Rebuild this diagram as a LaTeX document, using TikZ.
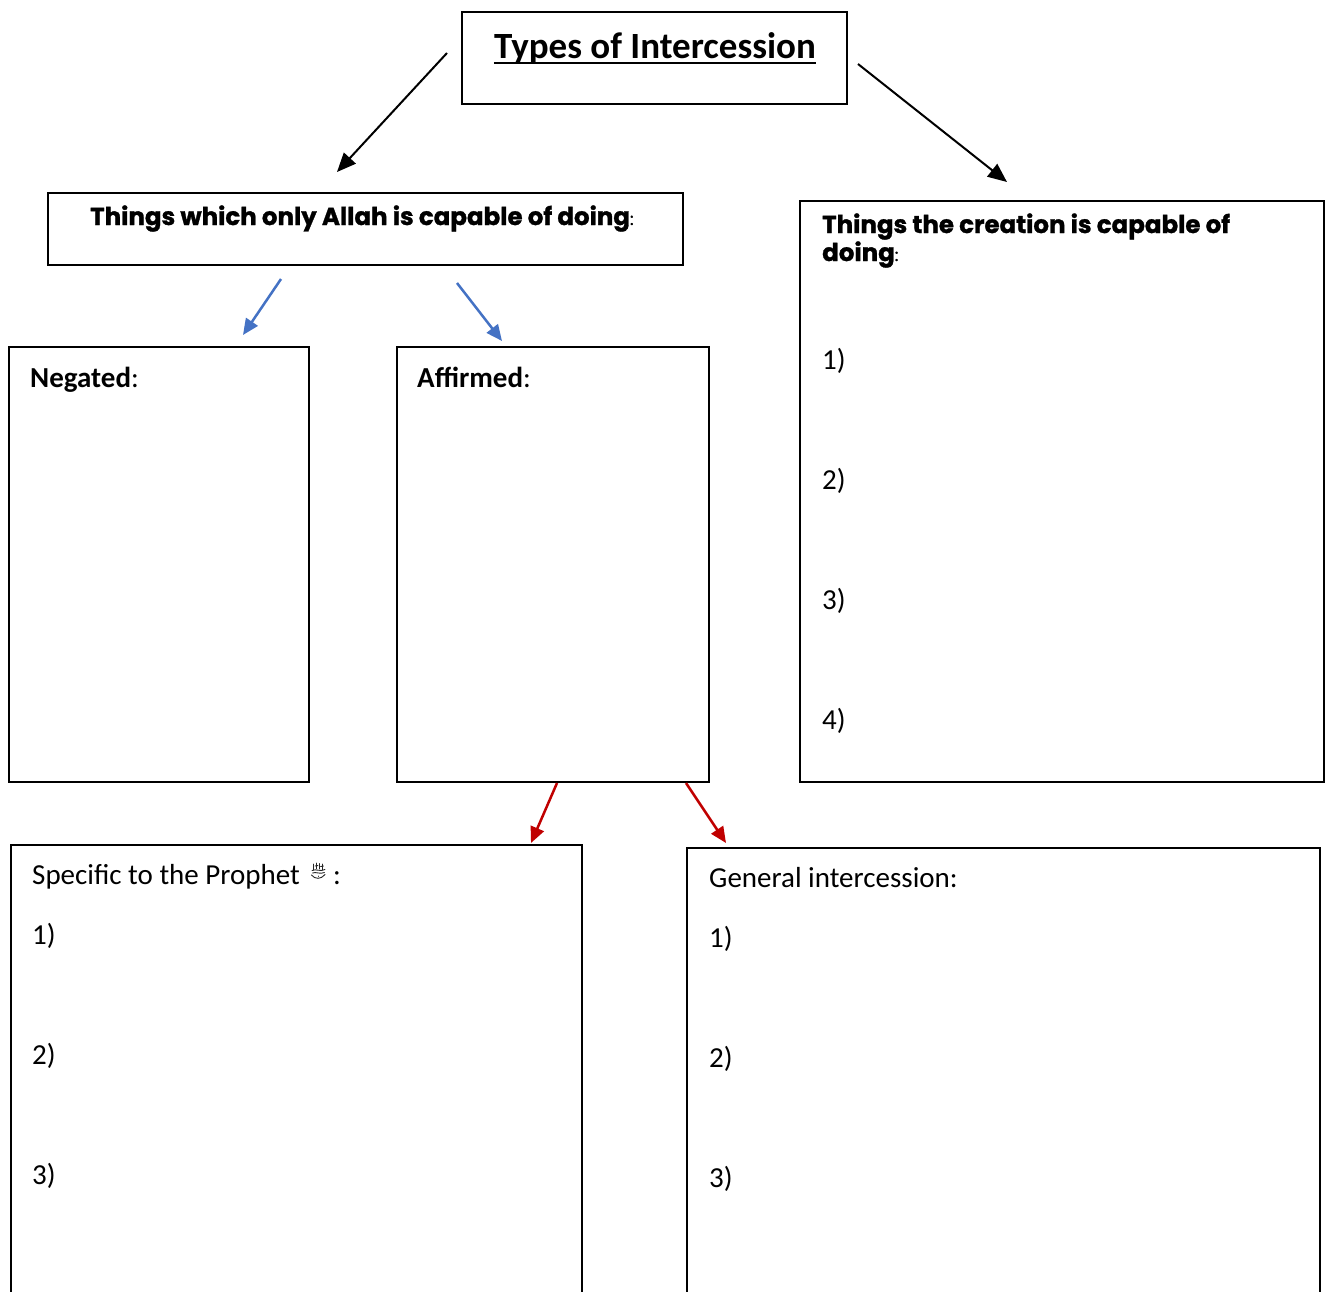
\documentclass[tikz,border=0pt]{standalone}
\usepackage{fontspec}
\setmainfont{Carlito}
\newfontfamily\headfont{Poppins}[FakeBold=1.2]
\usetikzlibrary{arrows.meta}
\definecolor{arrblue}{HTML}{4472C4}
\definecolor{arrred}{HTML}{C00000}
\tikzset{
  box/.style={draw=black, line width=2pt, anchor=north west, inner sep=0pt, outer sep=0pt},
  body/.style={anchor=base west, inner sep=0pt, font=\fontsize{29}{34}\selectfont},
  bodyb/.style={anchor=base west, inner sep=0pt, font=\fontsize{29}{34}\selectfont\bfseries},
  head/.style={anchor=base west, inner sep=0pt, font=\fontsize{24.5}{28}\selectfont\headfont\bfseries},
  blackarr/.style={draw=black, line width=2pt, -{Triangle[length=19pt,width=16pt]}},
  bluearr/.style={draw=arrblue, line width=2.5pt, -{Triangle[length=16pt,width=14pt]}},
  redarr/.style={draw=arrred, line width=2.5pt, -{Triangle[length=16pt,width=14pt]}},
  glyph/.style={draw=black!85, line width=0.9pt, line cap=round},
}
\begin{document}
\begin{tikzpicture}[x=1pt,y=-1pt]
\useasboundingbox (0,0) rectangle (1330,1291);
% boxes
\node[box, minimum width=385pt, minimum height=92pt] (titlebox) at (462,12) {};
\node[box, minimum width=635pt, minimum height=72pt] (allahbox) at (48,193) {};
\node[box, line width=2.4pt, minimum width=524pt, minimum height=581pt] (creabox) at (800,201) {};
\node[box, minimum width=300pt, minimum height=435pt] (negbox) at (9,347) {};
\node[box, minimum width=312pt, minimum height=435pt] (affbox) at (397,347) {};
\node[box, minimum width=571pt, minimum height=460pt] (specbox) at (11,845) {};
\node[box, minimum width=633pt, minimum height=460pt] (genbox) at (687,848) {};
% title
\node[anchor=base, inner sep=0pt, font=\fontsize{37}{42}\selectfont\bfseries] (title) at (655,58) {Types of Intercession};
\draw[line width=2.4pt] ([yshift=-5pt]title.base west) coordinate (ulA) -- ([yshift=-5pt]title.base east) coordinate (ulB);
% headings
\node[head] (allahtxt) at (90,225) {Things which only Allah is capable of doing{\fontsize{17}{20}\selectfont\mdseries:}};
\node[head] (creatxt1) at (822,233) {Things the creation is capable of};
\node[head] (creatxt2) at (822,261) {doing{\fontsize{17}{20}\selectfont\mdseries:}};
\node[bodyb] (negtxt) at (30,387) {Negated{\mdseries:}};
\node[bodyb] (afftxt) at (417,387) {Affirmed{\mdseries:}};
% creation list
\node[body] (c1) at (822,369) {1)};
\node[body] (c2) at (822,489) {2)};
\node[body] (c3) at (822,609) {3)};
\node[body] (c4) at (822,729) {4)};
% specific
\node[body] (spectxt) at (32,884) {Specific to the Prophet};
\node[body] (speccolon) at (333,884) {:};
% honorific symbol drawn as a small shape
\draw[glyph] (313.5,864) -- (313.5,870);
\draw[glyph] (316.5,863) -- (316.5,869);
\draw[glyph] (319.5,863.5) -- (319.5,869);
\draw[glyph] (322.5,864) -- (322.5,870);
\draw[glyph] (312,870.5) .. controls (316,868.5) and (320,872) .. (325,869.5);
\draw[glyph] (312.5,873) .. controls (316,871.5) and (320,874.5) .. (324.5,872.5);
\draw[glyph] (311.5,875) .. controls (315,879.5) and (321,879.5) .. (325,874.5);
\draw[glyph] (315,866) -- (318,865.5);
\draw[glyph] (318.5,876) -- (318.5,876.3);
\draw[glyph] (320.5,866.5) -- (323.5,866);
% general
\node[body] (gentxt) at (709,887) {General intercession:};
\node[body] (g1) at (709,947) {1)};
\node[body] (g2) at (709,1067) {2)};
\node[body] (g3) at (709,1187) {3)};
\node[body] (s1) at (32,944) {1)};
\node[body] (s2) at (32,1064) {2)};
\node[body] (s3) at (32,1184) {3)};
% arrow end points
\coordinate (bl0) at (447,53);
\coordinate (bl1) at (337,172);
\coordinate (br0) at (858,64);
\coordinate (br1) at (1007,182);
\coordinate (u10) at (281,279);
\coordinate (u11) at (243,335);
\coordinate (u20) at (457,283);
\coordinate (u21) at (502,341);
\coordinate (r10) at (557,783);
\coordinate (r11) at (531,843);
\coordinate (r20) at (686,783);
\coordinate (r21) at (726,843);
\draw[blackarr] (bl0) -- (bl1);
\draw[blackarr] (br0) -- (br1);
\draw[bluearr] (u10) -- (u11);
\draw[bluearr] (u20) -- (u21);
\draw[redarr] (r10) -- (r11);
\draw[redarr] (r20) -- (r21);
\end{tikzpicture}
\end{document}
